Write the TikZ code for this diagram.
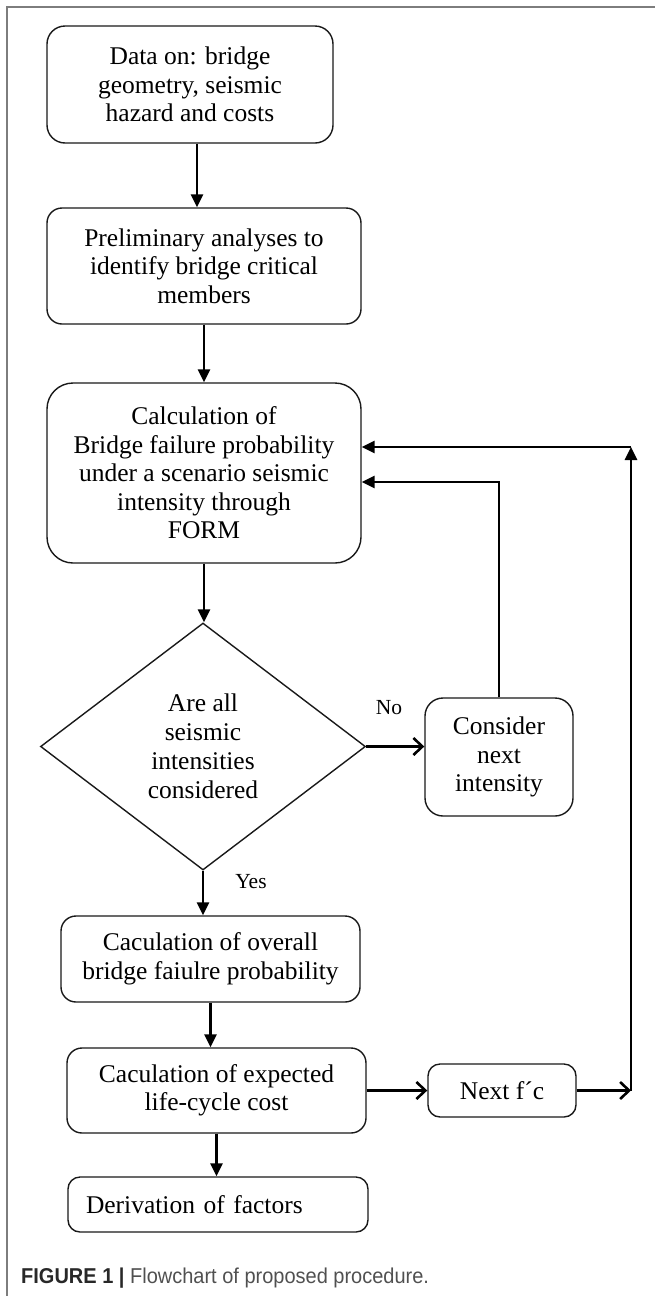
\documentclass[tikz,border=0pt]{standalone}
\usepackage{fontspec}
\setmainfont{Liberation Serif}
\newfontfamily\capfont[FakeStretch=0.93]{Liberation Sans}
\usetikzlibrary{arrows.meta,shapes.geometric}
\definecolor{framegray}{RGB}{125,125,125}
\definecolor{capdark}{RGB}{40,40,40}
\definecolor{capgray}{RGB}{80,80,80}
\begin{document}
\begin{tikzpicture}[x=1pt,y=-1pt,
  box/.style={draw=black!90, line width=1.4pt, rounded corners=14pt, align=center,
    inner sep=0pt, font=\fontsize{25.5}{28.5}\selectfont},
  dia/.style={draw=black!90, line width=1.4pt, diamond, align=center, inner sep=0pt,
    font=\fontsize{25.5}{29}\selectfont},
  arr/.style={line width=2.6pt, -{Triangle[length=13pt,width=12pt]}},
  barb/.style={line width=2.6pt, -{Straight Barb[length=9pt,width=17pt]}},
  lbl/.style={font=\fontsize{21.5}{24}\selectfont, inner sep=0pt},
  framel/.style={draw=framegray, line width=1.6pt}]
\useasboundingbox (0,0) rectangle (655,1296);
\draw[framel] (7,1296) -- (7,7) -- (655,7);

\node[box, minimum width=286pt, minimum height=117pt, rounded corners=18pt] (b1) at (190,84.5)
  {Data on: bridge\\geometry, seismic\\hazard and costs};
\node[box, minimum width=314pt, minimum height=116pt, rounded corners=15pt] (b2) at (204,266)
  {Preliminary analyses to\\identify bridge critical\\members};
\node[box, minimum width=314pt, minimum height=180pt, rounded corners=26pt] (b3) at (204,473)
  {Calculation of\\Bridge failure probability\\under a scenario seismic\\intensity through\\FORM};
\node[dia, minimum width=325pt, minimum height=247pt] (d) at (203,746.5)
  {Are all\\seismic\\intensities\\considered};
\node[box, minimum width=148pt, minimum height=118pt, rounded corners=18pt] (c) at (499,757)
  {Consider\\next\\intensity};
\node[box, minimum width=299pt, minimum height=86pt, rounded corners=15pt] (b4) at (210.5,959)
  {Caculation of overall\\bridge faiulre probability};
\node[box, minimum width=299pt, minimum height=85pt, rounded corners=15pt] (b5) at (216.5,1090.5)
  {Caculation of expected\\life-cycle cost};
\node[box, minimum width=148pt, minimum height=53pt, rounded corners=12pt] (n) at (502,1090.5)
  {Next f´c};
\node[box, minimum height=55pt, rounded corners=12pt, inner xsep=18pt, text width=264pt, align=left] (b6) at (218,1204.5)
  {Derivation of factors};

\node[lbl] (no) at (389,708) {No};
\node[lbl] (yes) at (251,882) {Yes};

\coordinate (lb) at (631,1090.5);
\coordinate (lt) at (631,447);

\draw[arr] ([xshift=7pt]b1.south) -- ([xshift=7pt]b1.south |- b2.north);
\draw[arr] (b2.south) -- (b3.north);
\draw[arr] (b3.south) -- (b3.south |- d.north);
\draw[arr] (d.south) -- (d.south |- b4.north);
\draw[arr] (b4.south) -- (b4.south |- b5.north);
\draw[arr] (b5.south) -- (b5.south |- b6.north);
\draw[barb] (d.east) -- (d.east -| c.west);
\draw[barb] (b5.east) -- (n.west);
\draw[barb] (n.east) -- (lb);
\draw[arr] (lb) -- (lt);
\draw[arr] (lt) -- (lt -| b3.east);
\draw[arr] (c.north) |- ([yshift=-9pt]b3.east);

\node[anchor=west, inner sep=0pt, font=\capfont\fontsize{21.5}{24}\selectfont] (cap) at (21,1278)
  {\textcolor{capdark}{\textbf{FIGURE 1 |}} \textcolor{capgray}{Flowchart of proposed procedure.}};
\end{tikzpicture}
\end{document}
